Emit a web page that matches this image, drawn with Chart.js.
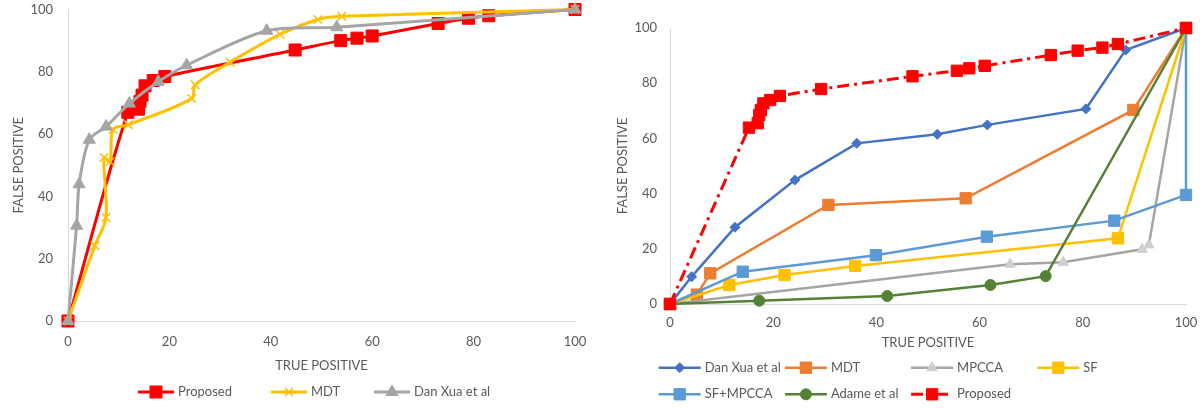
<!DOCTYPE html>
<html>
<head>
<meta charset="utf-8">
<script src="https://cdn.jsdelivr.net/npm/chart.js@4.4.0/dist/chart.umd.min.js"></script>
<style>
  html, body { margin: 0; padding: 0; background: #fff; }
  #wrap { position: relative; width: 1202px; height: 408px; }
  #left { position: absolute; left: 0; top: 0; }
  #right { position: absolute; left: 600px; top: 0; }
</style>
</head>
<body>
<div id="wrap">
  <canvas id="left" width="595" height="408" style="width:595px;height:408px"></canvas>
  <canvas id="right" width="602" height="408" style="width:602px;height:408px"></canvas>
</div>
<script>
// axis ticks, shared by both charts
var axisTicks = [0, 20, 40, 60, 80, 100];

// left chart
var leftProposedX = [0, 11.8, 13.9, 14.2, 14.6, 15.2, 16.8, 19.1, 44.8, 53.8, 57, 60, 73, 79, 83, 100];
var leftProposedY = [0, 67, 68, 70.5, 72.5, 75.5, 77.2, 78.5, 87, 90, 90.8, 91.5, 95.5, 97.2, 98, 100];
var leftMdtX = [0, 5.3, 7.5, 7.1, 8.3, 8.9, 11.9, 24.4, 25.1, 32, 41.8, 49.3, 54, 100];
var leftMdtY = [0, 24.2, 33.2, 52.5, 51.1, 61.5, 63, 71.4, 75.8, 83.1, 92, 96.8, 97.8, 100];
var leftDanX = [0, 1.7, 2.2, 4.2, 7.5, 12.1, 17.8, 23.4, 39.2, 53, 100];
var leftDanY = [0, 30.6, 43.9, 58.2, 62.4, 69.8, 76.8, 82.1, 93.2, 94.3, 100];

// right chart
var rightDanX = [0, 4.2, 12.6, 24.2, 36.2, 51.8, 61.5, 80.6, 88.3, 100];
var rightDanY = [0, 9.9, 27.8, 44.9, 58.2, 61.5, 64.9, 70.7, 92, 100];
var rightMdtX = [0, 5.2, 7.8, 30.7, 57.3, 89.8, 100];
var rightMdtY = [0, 3.4, 11.1, 35.9, 38.3, 70.3, 100];
var rightMpccaX = [0, 65.9, 76.2, 91.5, 92.8, 100];
var rightMpccaY = [0, 14.4, 15.1, 19.8, 21.4, 100];
var rightSfX = [0, 11.5, 22.2, 35.9, 86.8, 100];
var rightSfY = [0, 6.9, 10.5, 13.8, 23.8, 100];
var rightSfMpccaX = [0, 14.1, 39.9, 61.4, 86.1, 100, 100];
var rightSfMpccaY = [0, 11.7, 17.7, 24.4, 30.2, 39.5, 100];
var rightAdameX = [0, 17.3, 42.1, 62.1, 72.8, 100];
var rightAdameY = [0, 1.2, 2.9, 6.9, 10.1, 100];
var rightProposedX = [0, 15.3, 17, 17.3, 17.6, 18.1, 19.4, 21.3, 29.3, 47, 55.6, 58, 61, 73.8, 79, 83.8, 86.8, 100];
var rightProposedY = [0, 63.9, 65.5, 68.5, 70.3, 72.7, 73.9, 75.4, 77.9, 82.5, 84.5, 85.4, 86.3, 90.2, 91.8, 92.9, 94.2, 100];

var FONT = 'Lato, "Liberation Sans", sans-serif';
var TEXT = '#595959';
var AXIS = '#d9d9d9';

function pts(xs, ys) {
  return xs.map(function(x, i) { return { x: x, y: ys[i] }; });
}

// legend with a line and a marker for every series, like the spreadsheet one
var lineLegend = {
  id: 'lineLegend',
  afterDraw: function(chart, args, opts) {
    var ctx = chart.ctx;
    var sets = chart.data.datasets;
    ctx.save();
    ctx.font = '13px ' + FONT;
    ctx.textBaseline = 'middle';
    sets.forEach(function(ds, i) {
      var x, y;
      if (opts.colWidth) {
        x = opts.left + (i % opts.cols) * opts.colWidth;
        y = opts.top + Math.floor(i / opts.cols) * opts.rowHeight;
      } else {
        x = opts.starts[i];
        y = opts.top;
      }
      ctx.strokeStyle = ds.borderColor;
      ctx.lineWidth = ds.borderWidth;
      ctx.setLineDash(ds.borderDash || []);
      ctx.beginPath();
      ctx.moveTo(x, y);
      ctx.lineTo(x + opts.lineLen, y);
      ctx.stroke();
      ctx.setLineDash([]);
      ctx.fillStyle = ds.pointBackgroundColor;
      ctx.strokeStyle = ds.pointBorderColor;
      ctx.lineWidth = ds.pointBorderWidth;
      Chart.helpers.drawPoint(ctx, {
        pointStyle: ds.pointStyle,
        radius: ds.legendRadius || ds.pointRadius,
        rotation: 0,
        borderWidth: ds.pointBorderWidth
      }, x + opts.lineLen / 2, y);
      ctx.fillStyle = TEXT;
      ctx.textAlign = 'left';
      ctx.fillText(ds.label, x + opts.lineLen + 4, y);
    });
    ctx.restore();
  }
};

function series(label, xs, ys, color, style, radius, extra) {
  var ds = {
    label: label,
    data: pts(xs, ys),
    showLine: true,
    borderColor: color,
    backgroundColor: color,
    borderWidth: 3,
    pointStyle: style,
    pointRadius: radius,
    pointHoverRadius: radius,
    pointBackgroundColor: color,
    pointBorderColor: color,
    pointBorderWidth: 1,
    clip: false
  };
  for (var k in extra) ds[k] = extra[k];
  return ds;
}

function scales(opt) {
  var tickFont = { family: FONT, size: 13 };
  // tick marks are invisible, their length is only the gap to the labels
  var hidden = 'rgba(0,0,0,0)';
  return {
    x: {
      type: 'linear', min: 0, max: 100,
      afterBuildTicks: function(s) { s.ticks = axisTicks.map(function(v) { return { value: v }; }); },
      afterFit: function(s) { s.height = opt.xHeight; },
      grid: { display: true, drawOnChartArea: false, drawTicks: true, tickLength: opt.xGap, color: hidden },
      border: { display: true, color: AXIS, width: 1 },
      ticks: { color: TEXT, font: tickFont, padding: 0, maxRotation: 0 },
      title: { display: true, text: 'TRUE POSITIVE', color: TEXT, font: tickFont, padding: { top: 0, bottom: opt.xTitlePad } }
    },
    y: {
      type: 'linear', min: 0, max: 100,
      afterBuildTicks: function(s) { s.ticks = axisTicks.map(function(v) { return { value: v }; }); },
      afterFit: function(s) { s.width = opt.yWidth; },
      grid: { display: true, drawOnChartArea: false, drawTicks: true, tickLength: opt.yGap, color: hidden },
      border: { display: true, color: AXIS, width: 1 },
      ticks: { color: TEXT, font: tickFont, padding: 0 },
      title: { display: true, text: 'FALSE POSITIVE', color: TEXT, font: tickFont, padding: { top: opt.yTitlePad, bottom: 0 } }
    }
  };
}

function build(id, datasets, opt, legendOpts) {
  datasets.forEach(function(ds, i) { ds.order = -i; });
  return new Chart(document.getElementById(id), {
    type: 'scatter',
    data: { datasets: datasets },
    options: {
      responsive: false,
      animation: false,
      layout: { padding: opt.padding },
      plugins: { legend: { display: false }, tooltip: { enabled: false }, lineLegend: legendOpts },
      scales: scales(opt)
    },
    plugins: [lineLegend]
  });
}

build('left', [
  series('Proposed', leftProposedX, leftProposedY, '#FF0000', 'rect', 8.5, { tension: 0.3 }),
  series('MDT', leftMdtX, leftMdtY, '#FFC000', 'crossRot', 6, { tension: 0.3, pointBorderWidth: 1.5, legendRadius: 5.5 }),
  series('Dan Xua et al', leftDanX, leftDanY, '#A5A5A5', 'triangle', 7, { tension: 0.3 })
], {
  padding: { left: 0, right: 20, top: 7, bottom: 31 },
  xHeight: 56, xGap: 13, xTitlePad: 3, yWidth: 68, yGap: 15, yTitlePad: 11
}, { top: 392, lineLen: 36, starts: [138, 271, 374] });

build('right', [
  series('Dan Xua et al', rightDanX, rightDanY, '#4472C4', 'rectRot', 5, { borderWidth: 2.5 }),
  series('MDT', rightMdtX, rightMdtY, '#ED7D31', 'rect', 8, { borderWidth: 2.5 }),
  series('MPCCA', rightMpccaX, rightMpccaY, '#A5A5A5', 'triangle', 6, { borderWidth: 2.5, pointBackgroundColor: '#CFCFCF', pointBorderColor: '#CFCFCF' }),
  series('SF', rightSfX, rightSfY, '#FFC000', 'rect', 8, { borderWidth: 2.5 }),
  series('SF+MPCCA', rightSfMpccaX, rightSfMpccaY, '#5B9BD5', 'rect', 8, { borderWidth: 2.5 }),
  series('Adame et al', rightAdameX, rightAdameY, '#548235', 'circle', 5.5, { borderWidth: 2.5 }),
  series('Proposed', rightProposedX, rightProposedY, '#FF0000', 'rect', 8, { borderWidth: 3, borderDash: [12, 5, 3, 5] })
], {
  padding: { left: 0, right: 16, top: 28, bottom: 56 },
  xHeight: 48, xGap: 11, xTitlePad: 1, yWidth: 70, yGap: 13, yTitlePad: 15
}, { top: 367.7, rowHeight: 26.6, cols: 4, colWidth: 126.2, left: 58.7, lineLen: 42 });
</script>
</body>
</html>
